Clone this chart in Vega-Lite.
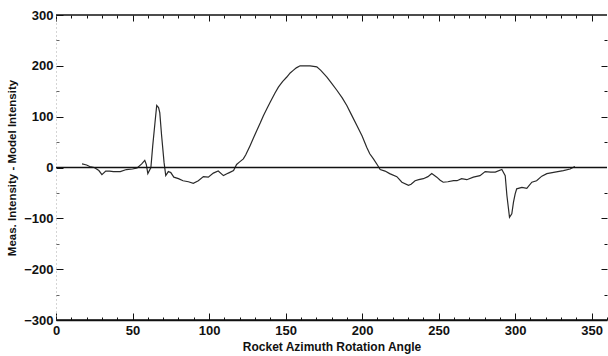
{
  "$schema": "https://vega.github.io/schema/vega-lite/v6.json",
  "width": 551,
  "height": 305,
  "autosize": {"type": "none"},
  "padding": {"left": 56, "top": 15, "right": 1, "bottom": 36},
  "background": "white",
  "config": {
    "view": {"stroke": null},
    "axis": {"labelFont": "Liberation Sans", "titleFont": "Liberation Sans", "labelColor": "#111", "titleColor": "#111", "grid": false, "tickColor": "#111", "domainColor": "#111"}
  },
  "datasets": {
    "curve": [
      {"angle": 17, "diff": 7}, {"angle": 20, "diff": 5}, {"angle": 22, "diff": 2}, {"angle": 25, "diff": 0},
      {"angle": 28, "diff": -6}, {"angle": 30, "diff": -14}, {"angle": 32.5, "diff": -7}, {"angle": 35, "diff": -7},
      {"angle": 37.5, "diff": -8}, {"angle": 42, "diff": -8}, {"angle": 46, "diff": -4}, {"angle": 50, "diff": -3},
      {"angle": 53, "diff": -1}, {"angle": 56, "diff": 7}, {"angle": 58, "diff": 14}, {"angle": 59, "diff": 6},
      {"angle": 60, "diff": -12}, {"angle": 62, "diff": 0}, {"angle": 63.2, "diff": 43}, {"angle": 64.7, "diff": 89},
      {"angle": 65.8, "diff": 122}, {"angle": 67, "diff": 118}, {"angle": 67.8, "diff": 108}, {"angle": 69, "diff": 63},
      {"angle": 70.6, "diff": 10}, {"angle": 71.7, "diff": -16}, {"angle": 73.4, "diff": -8}, {"angle": 75, "diff": -10},
      {"angle": 77, "diff": -19}, {"angle": 80, "diff": -22}, {"angle": 83, "diff": -26}, {"angle": 86.5, "diff": -28},
      {"angle": 89.7, "diff": -31}, {"angle": 93, "diff": -26}, {"angle": 96.3, "diff": -18}, {"angle": 99.5, "diff": -19},
      {"angle": 102.8, "diff": -11}, {"angle": 106, "diff": -7}, {"angle": 109.4, "diff": -16}, {"angle": 112.6, "diff": -11},
      {"angle": 116, "diff": -6}, {"angle": 118, "diff": 6}, {"angle": 120, "diff": 11}, {"angle": 122.4, "diff": 17},
      {"angle": 124, "diff": 25}, {"angle": 126.8, "diff": 43}, {"angle": 129, "diff": 58}, {"angle": 131.2, "diff": 73},
      {"angle": 133.5, "diff": 88}, {"angle": 135.5, "diff": 102}, {"angle": 138, "diff": 117}, {"angle": 140, "diff": 129},
      {"angle": 143, "diff": 146}, {"angle": 145.3, "diff": 158}, {"angle": 148, "diff": 169}, {"angle": 150.8, "diff": 178},
      {"angle": 153, "diff": 186}, {"angle": 155, "diff": 191}, {"angle": 157, "diff": 196}, {"angle": 159.5, "diff": 200},
      {"angle": 163, "diff": 200}, {"angle": 166, "diff": 200}, {"angle": 170.4, "diff": 198}, {"angle": 173, "diff": 191},
      {"angle": 177, "diff": 178}, {"angle": 180, "diff": 166}, {"angle": 183.5, "diff": 152}, {"angle": 187, "diff": 137},
      {"angle": 190, "diff": 122}, {"angle": 193, "diff": 104}, {"angle": 196.5, "diff": 83}, {"angle": 200, "diff": 62},
      {"angle": 203, "diff": 40}, {"angle": 205, "diff": 27}, {"angle": 207.4, "diff": 17}, {"angle": 210, "diff": 5},
      {"angle": 211.8, "diff": -4}, {"angle": 215, "diff": -7}, {"angle": 218, "diff": -12}, {"angle": 222.7, "diff": -18},
      {"angle": 226, "diff": -29}, {"angle": 230.3, "diff": -35}, {"angle": 232, "diff": -33}, {"angle": 234.6, "diff": -26},
      {"angle": 237, "diff": -24}, {"angle": 240, "diff": -22}, {"angle": 243, "diff": -18}, {"angle": 245.5, "diff": -12},
      {"angle": 248.8, "diff": -19}, {"angle": 251, "diff": -25}, {"angle": 253, "diff": -29}, {"angle": 256, "diff": -28},
      {"angle": 259.7, "diff": -26}, {"angle": 262, "diff": -26}, {"angle": 265, "diff": -22}, {"angle": 268.4, "diff": -24},
      {"angle": 272.7, "diff": -19}, {"angle": 277, "diff": -16}, {"angle": 280.4, "diff": -8}, {"angle": 284, "diff": -9},
      {"angle": 287, "diff": -9}, {"angle": 291.3, "diff": -4}, {"angle": 293.5, "diff": -16}, {"angle": 294.6, "diff": -55},
      {"angle": 296.3, "diff": -98}, {"angle": 297.8, "diff": -91}, {"angle": 298.9, "diff": -68}, {"angle": 300, "diff": -52},
      {"angle": 301, "diff": -42}, {"angle": 304.4, "diff": -39}, {"angle": 307.6, "diff": -41}, {"angle": 310.9, "diff": -29},
      {"angle": 314, "diff": -26}, {"angle": 317.4, "diff": -17}, {"angle": 320.7, "diff": -12}, {"angle": 326, "diff": -9},
      {"angle": 331.5, "diff": -6}, {"angle": 335.9, "diff": -3}, {"angle": 339, "diff": 2}
    ],
    "frame": [
      {"x0": 0, "x1": 360, "level": 0}
    ]
  },
  "resolve": {"axis": {"x": "independent", "y": "independent"}},
  "layer": [
    {
      "data": {"name": "curve"},
      "mark": {"type": "line", "color": "#2a2a2a", "strokeWidth": 1.2, "interpolate": "linear"},
      "encoding": {
        "x": {"field": "angle", "type": "quantitative",
          "scale": {"domain": [0, 360], "nice": false, "zero": false},
          "axis": {"orient": "bottom", "values": [0, 50, 100, 150, 200, 250, 300, 350], "tickSize": -7, "tickWidth": 1, "labelPadding": 11, "labelFontSize": 13, "labelFontWeight": "bold", "labelFlush": false, "labelOverlap": false,
            "title": "Rocket Azimuth Rotation Angle", "titleFontSize": 12, "titleFontWeight": "bold", "titlePadding": 4, "domainWidth": 1.5}},
        "y": {"field": "diff", "type": "quantitative",
          "scale": {"domain": [-300, 300], "nice": false},
          "axis": {"orient": "left", "values": [-300, -200, -100, 0, 100, 200, 300], "tickSize": -7, "tickWidth": 1, "labelPadding": 10, "labelFontSize": 13, "labelFontWeight": "bold", "labelFlush": false, "labelOverlap": false,
            "domainColor": "#aaa", "domainDash": [1, 3],
            "title": "Meas. Intensity - Model Intensity", "titleFontSize": 11.5, "titleFontWeight": "bold", "titlePadding": 6}}
      }
    },
    {
      "data": {"name": "frame"},
      "mark": {"type": "rule", "color": "#111", "strokeWidth": 1.3},
      "encoding": {
        "x": {"field": "x0", "type": "quantitative", "scale": {"domain": [0, 360], "nice": false, "zero": false},
          "axis": {"orient": "bottom", "values": [10, 20, 30, 40, 60, 70, 80, 90, 110, 120, 130, 140, 160, 170, 180, 190, 210, 220, 230, 240, 260, 270, 280, 290, 310, 320, 330, 340, 360], "tickSize": -3, "labels": false, "domain": false, "title": null}},
        "x2": {"field": "x1"},
        "y": {"field": "level", "type": "quantitative", "scale": {"domain": [-300, 300], "nice": false},
          "axis": {"orient": "left", "values": [-250, -150, -50, 50, 150, 250], "tickSize": -3, "tickColor": "#666", "labels": false, "domain": false, "title": null}}
      }
    },
    {
      "data": {"values": [{"x0": 0, "x1": 360, "level": 300}]},
      "mark": {"type": "rule", "color": "#111", "strokeWidth": 1.5},
      "encoding": {
        "x": {"field": "x0", "type": "quantitative", "scale": {"domain": [0, 360], "nice": false, "zero": false},
          "axis": {"orient": "top", "values": [0, 50, 100, 150, 200, 250, 300, 350], "tickSize": -6, "labels": false, "domain": false, "title": null}},
        "x2": {"field": "x1"},
        "y": {"field": "level", "type": "quantitative", "scale": {"domain": [-300, 300], "nice": false},
          "axis": {"orient": "right", "values": [-200, -100, 100, 200], "tickSize": -6, "labels": false, "domain": false, "title": null}}
      }
    },
    {
      "data": {"values": [{"x0": 0, "x1": 360, "level": -300}]},
      "mark": {"type": "rule", "color": "#111", "strokeWidth": 1.5},
      "encoding": {
        "x": {"field": "x0", "type": "quantitative", "scale": {"domain": [0, 360], "nice": false, "zero": false},
          "axis": {"orient": "top", "values": [10, 20, 30, 40, 60, 70, 80, 90, 110, 120, 130, 140, 160, 170, 180, 190, 210, 220, 230, 240, 260, 270, 280, 290, 310, 320, 330, 340], "tickSize": -3, "labels": false, "domain": false, "title": null}},
        "x2": {"field": "x1"},
        "y": {"field": "level", "type": "quantitative", "scale": {"domain": [-300, 300], "nice": false},
          "axis": {"orient": "right", "values": [-250, -150, -50, 50, 150, 250], "tickSize": -3, "labels": false, "domain": false, "title": null}}
      }
    }
  ]
}
